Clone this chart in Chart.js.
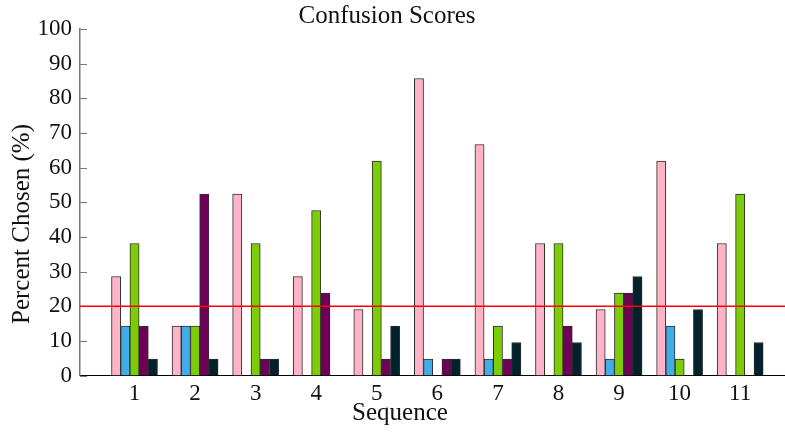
<!DOCTYPE html>
<html>
<head>
<meta charset="utf-8">
<script src="https://cdn.jsdelivr.net/npm/chart.js@4.4.1/dist/chart.umd.min.js"></script>
<style>
  html, body { margin: 0; padding: 0; background: #ffffff; }
  #wrap { width: 785px; height: 432px; position: relative; }
</style>
</head>
<body>
<div id="wrap"><canvas id="chart" width="785" height="432"></canvas></div>
<script>
// Sequence numbers along the x axis
const sequences = [1, 2, 3, 4, 5, 6, 7, 8, 9, 10, 11];

// Percent of participants choosing each option, per sequence
const optionA = [28.57, 14.29, 52.38, 28.57, 19.05, 85.71, 66.67, 38.10, 19.05, 61.90, 38.10];
const optionB = [14.29, 14.29, 0, 0, 0, 4.76, 4.76, 0, 4.76, 14.29, 0];
const optionC = [38.10, 14.29, 38.10, 47.62, 61.90, 0, 14.29, 38.10, 23.81, 4.76, 52.38];
const optionD = [14.29, 52.38, 4.76, 23.81, 4.76, 4.76, 4.76, 14.29, 23.81, 0, 0];
const optionE = [4.76, 4.76, 4.76, 0, 14.29, 4.76, 9.52, 9.52, 28.57, 19.05, 9.52];

// Chance level reference
const chanceLevel = 20;

// Y axis tick values
const yTicks = [0, 10, 20, 30, 40, 50, 60, 70, 80, 90, 100];

const X_MIN = 0.1;
const X_MAX = 11.74;

const seriesList = [
  { values: optionA, color: '#ffb3c6' },
  { values: optionB, color: '#40ade6' },
  { values: optionC, color: '#7ccc08' },
  { values: optionD, color: '#6e0057' },
  { values: optionE, color: '#00222c' }
];

const barSets = seriesList.map(s => ({
  type: 'bar',
  data: sequences.map((x, i) => ({ x: x, y: s.values[i] })),
  backgroundColor: s.color,
  borderColor: '#2e2e2e',
  borderWidth: 1,
  barThickness: 9.2,
  grouped: true
}));

const chanceLine = {
  type: 'line',
  order: -1,
  data: [{ x: X_MIN, y: chanceLevel }, { x: X_MAX, y: chanceLevel }],
  borderColor: '#ff0000',
  borderWidth: 1.5,
  pointRadius: 0,
  fill: false
};

const serif = "'Liberation Serif', 'DejaVu Serif', serif";

// Inward y tick marks (under the data) and the chart's titles
const decorations = {
  id: 'decorations',
  beforeDatasetsDraw(chart) {
    const ctx = chart.ctx;
    const y = chart.scales.y;
    const area = chart.chartArea;
    ctx.save();
    ctx.strokeStyle = '#7a7a7a';
    ctx.lineWidth = 1;
    yTicks.forEach(v => {
      const py = Math.round(y.getPixelForValue(v)) + 0.5;
      ctx.beginPath();
      ctx.moveTo(area.left, py);
      ctx.lineTo(area.left + 7, py);
      ctx.stroke();
    });
    ctx.restore();
  },
  afterDraw(chart) {
    const ctx = chart.ctx;
    ctx.save();
    ctx.fillStyle = '#111111';
    ctx.textAlign = 'center';
    ctx.textBaseline = 'middle';
    ctx.font = '25px ' + serif;
    ctx.fillText('Confusion Scores', 387, 16);
    ctx.fillText('Sequence', 400, 413);
    ctx.translate(22, 224);
    ctx.rotate(-Math.PI / 2);
    ctx.fillText('Percent Chosen (%)', 0, 0);
    ctx.restore();
  }
};

new Chart(document.getElementById('chart'), {
  type: 'bar',
  data: { datasets: [chanceLine, ...barSets] },
  plugins: [decorations],
  options: {
    responsive: false,
    animation: false,
    devicePixelRatio: 1,
    layout: { padding: { top: 29, left: 0, right: 0, bottom: 0 } },
    plugins: {
      legend: { display: false },
      tooltip: { enabled: false },
      title: { display: false }
    },
    scales: {
      x: {
        type: 'linear',
        min: X_MIN,
        max: X_MAX,
        offset: false,
        afterBuildTicks(scale) {
          scale.ticks = sequences.map(v => ({ value: v }));
        },
        afterFit(scale) { scale.height = 56.5; },
        grid: { display: false, drawTicks: false },
        border: { display: true, color: '#000000', width: 1 },
        ticks: {
          padding: 5,
          color: '#111111',
          font: { family: serif, size: 23 },
          maxRotation: 0,
          autoSkip: false,
          callback: v => String(v)
        }
      },
      y: {
        type: 'linear',
        min: 0,
        max: 100,
        afterBuildTicks(scale) {
          scale.ticks = yTicks.map(v => ({ value: v }));
        },
        afterFit(scale) { scale.width = 80; },
        grid: { display: false, drawTicks: false },
        border: { display: true, color: '#7a7a7a', width: 1.5 },
        ticks: {
          padding: 8,
          color: '#111111',
          font: { family: serif, size: 23 },
          callback: v => String(v)
        }
      }
    }
  }
});
</script>
</body>
</html>
